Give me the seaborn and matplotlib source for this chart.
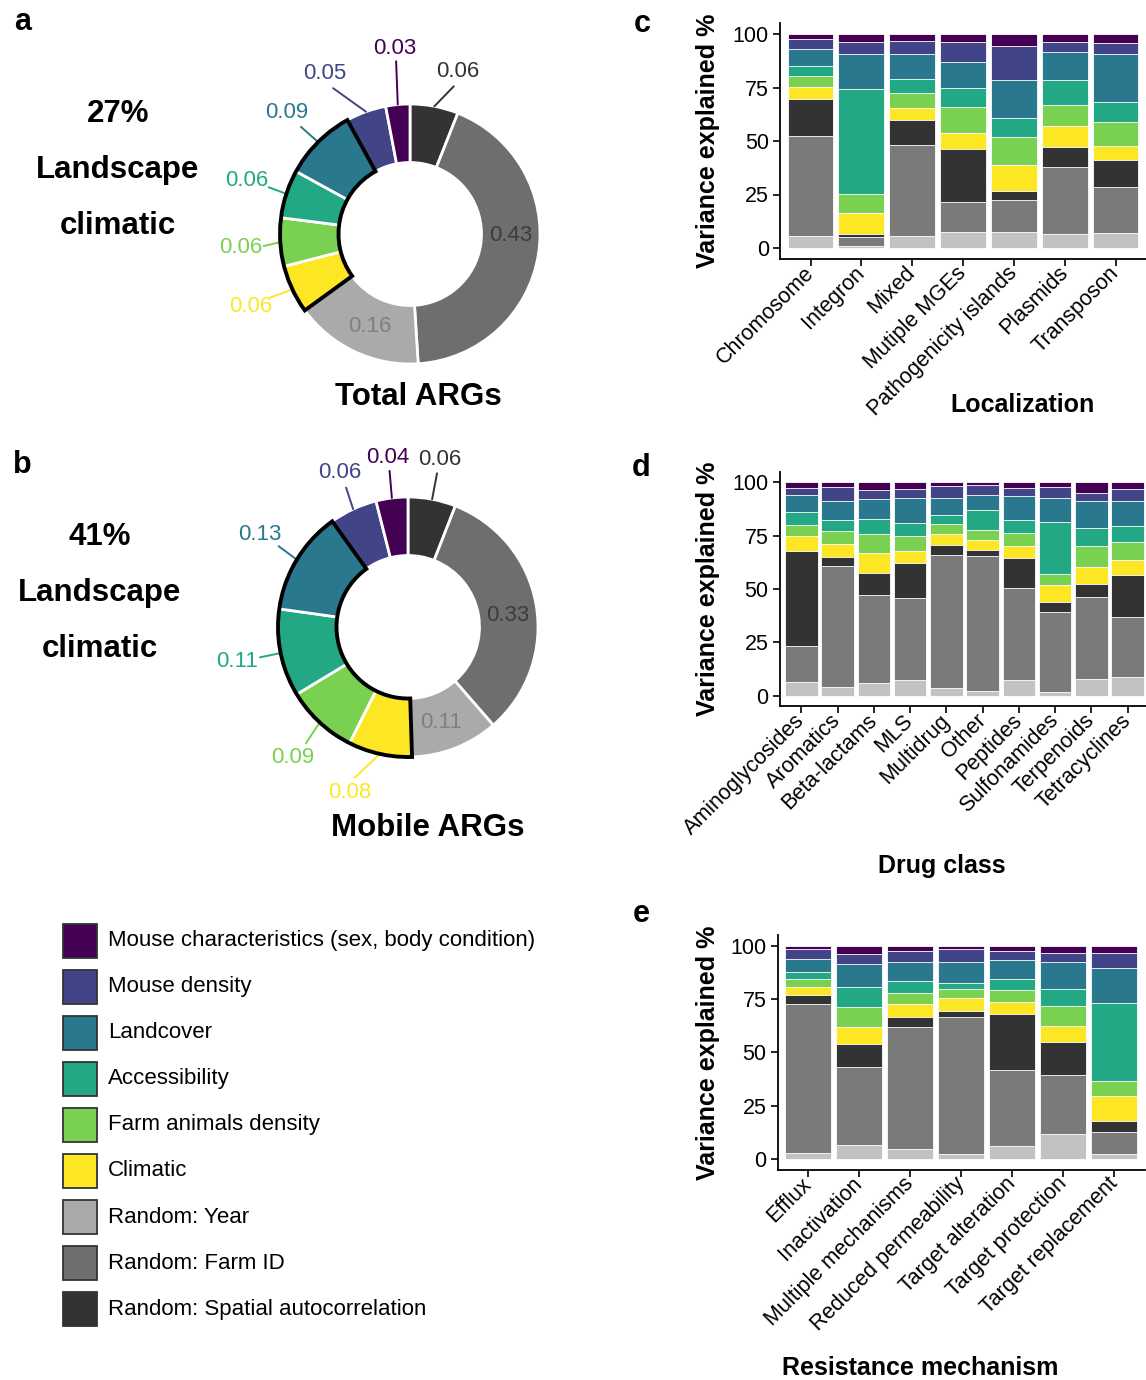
import numpy as np
import pandas as pd
import matplotlib
matplotlib.use("Agg")
import matplotlib.pyplot as plt
from matplotlib.patches import Wedge, Rectangle
import seaborn as sns

# stacking order, bottom -> top
components = ["Random: Year", "Random: Farm ID", "Random: Spatial autocorrelation",
              "Climatic", "Farm animals density", "Accessibility", "Landcover",
              "Mouse density", "Mouse characteristics (sex, body condition)"]
comp_colors = ["#AAAAAA", "#6E6E6E", "#333333", "#FDE725", "#7AD151",
               "#22A884", "#2A788E", "#414487", "#440154"]
bar_colors = ["#C2C2C2", "#7A7A7A", "#333333", "#FDE725", "#7AD151",
              "#22A884", "#2A788E", "#414487", "#440154"]
legend_order = [8, 7, 6, 5, 4, 3, 0, 1, 2]

# donuts (clockwise from top): spatial, farm ID, year, climatic, farm animals,
# accessibility, landcover, mouse density, mouse characteristics
donut_idx = [2, 1, 0, 3, 4, 5, 6, 7, 8]
total_vals = [0.06, 0.43, 0.16, 0.06, 0.06, 0.06, 0.09, 0.05, 0.03]
mobile_vals = [0.06, 0.33, 0.11, 0.08, 0.09, 0.11, 0.13, 0.06, 0.04]

# panel c
loc_cats = ["Chromosome", "Integron", "Mixed", "Mutiple MGEs",
            "Pathogenicity islands", "Plasmids", "Transposon"]
loc_year = [5.6, 0.8, 5.6, 7.6, 7.6, 6.7, 7.2]
loc_farm = [46.7, 4.2, 42.7, 13.7, 14.7, 31.0, 21.5]
loc_spatial = [17.3, 1.7, 11.5, 25.0, 4.5, 9.5, 12.4]
loc_climatic = [5.5, 9.8, 5.8, 7.6, 11.8, 10.0, 6.7]
loc_farmanim = [5.4, 8.9, 6.8, 11.8, 13.1, 9.5, 10.9]
loc_access = [4.5, 48.7, 6.4, 9.1, 8.9, 12.0, 9.4]
loc_land = [8.1, 16.7, 12.0, 12.1, 17.9, 12.7, 22.7]
loc_mdens = [4.4, 5.5, 6.1, 9.4, 16.0, 4.7, 4.8]
loc_mchar = [2.5, 3.7, 3.1, 3.7, 5.5, 3.9, 4.4]

# panel d
drug_cats = ["Aminoglycosides", "Aromatics", "Beta-lactams", "MLS", "Multidrug",
             "Other", "Peptides", "Sulfonamides", "Terpenoids", "Tetracyclines"]
drug_year = [6.4, 3.9, 5.8, 7.5, 3.8, 2.2, 7.5, 1.9, 7.8, 8.8]
drug_farm = [16.9, 56.7, 41.4, 38.3, 62.1, 63.3, 42.8, 37.3, 38.5, 28.2]
drug_spatial = [44.5, 4.6, 10.3, 16.5, 4.9, 2.6, 14.1, 4.7, 6.0, 19.4]
drug_climatic = [7.0, 6.1, 9.4, 5.5, 4.8, 4.7, 5.9, 7.8, 7.9, 7.2]
drug_farmanim = [5.2, 5.7, 8.9, 7.0, 4.7, 5.0, 6.1, 5.5, 10.1, 8.3]
drug_access = [6.1, 5.3, 6.9, 6.1, 4.2, 9.2, 6.1, 24.2, 8.5, 7.6]
drug_land = [8.0, 9.1, 9.5, 11.9, 8.3, 7.1, 11.1, 11.4, 12.5, 11.6]
drug_mdens = [3.2, 6.6, 4.2, 4.2, 5.5, 4.7, 3.7, 4.9, 3.9, 5.6]
drug_mchar = [2.7, 2.0, 3.6, 3.0, 1.7, 1.2, 2.7, 2.3, 4.8, 3.3]

# panel e
mech_cats = ["Efflux", "Inactivation", "Multiple mechanisms", "Reduced permeability",
             "Target alteration", "Target protection", "Target replacement"]
mech_year = [2.7, 6.6, 4.7, 2.2, 6.3, 11.6, 2.3]
mech_farm = [70.1, 36.7, 57.3, 64.5, 35.3, 27.6, 10.4]
mech_spatial = [4.1, 10.5, 4.6, 2.8, 26.2, 15.8, 5.1]
mech_climatic = [3.7, 8.2, 6.2, 5.8, 5.8, 7.5, 11.6]
mech_farmanim = [3.8, 9.3, 5.0, 4.2, 5.8, 9.4, 7.3]
mech_access = [3.3, 9.3, 5.5, 3.2, 4.8, 7.6, 36.6]
mech_land = [6.2, 11.0, 9.2, 9.5, 9.1, 13.0, 16.2]
mech_mdens = [4.5, 4.7, 5.2, 6.2, 4.0, 4.2, 7.2]
mech_mchar = [1.6, 3.7, 2.3, 1.6, 2.7, 3.3, 3.3]

sns.set_theme(style="ticks")
plt.rcParams["font.family"] = ["Liberation Sans", "DejaVu Sans"]
plt.rcParams.update({"text.color": "black", "axes.labelcolor": "black",
                     "xtick.color": "black", "ytick.color": "black"})

W, H = 1146, 1380
fig = plt.figure(figsize=(W / 100, H / 100), dpi=100)


def px(x, y):
    return x / W, 1 - y / H


def rect(left, top, right, bottom):
    return [left / W, 1 - bottom / H, (right - left) / W, (bottom - top) / H]


def stacked(box, cats, layers, xlabel, xlab_pos):
    ax = fig.add_axes(rect(*box))
    cum = np.cumsum(np.array(layers, dtype=float), axis=0)
    for i in range(len(layers) - 1, -1, -1):
        df = pd.DataFrame({"cat": cats, "val": cum[i]})
        sns.barplot(data=df, x="cat", y="val", order=cats, color=bar_colors[i],
                    saturation=1, width=0.9, edgecolor="white", linewidth=0.6, ax=ax)
    n = len(cats)
    ax.set_xlim(-0.6, n - 0.4)
    ax.set_ylim(-5, 105)
    ax.set_yticks([0, 25, 50, 75, 100])
    ax.set_xticks(range(n))
    ax.set_xticklabels(cats, rotation=45, ha="right", va="center",
                       rotation_mode="anchor", fontsize=15.5)
    ax.tick_params(axis="y", labelsize=15.5)
    ax.tick_params(length=5, width=1.2, color="black", pad=3)
    ax.set_xlabel("")
    ax.set_ylabel("")
    sns.despine(ax=ax)
    for s in ["left", "bottom"]:
        ax.spines[s].set_linewidth(1.3)
        ax.spines[s].set_color("black")
    cy = (box[1] + box[3]) / 2
    fig.text(*px(708, cy), "Variance explained %", rotation=90, ha="center",
             va="center", fontsize=18, fontweight="bold")
    fig.text(*px(*xlab_pos), xlabel, ha="center", va="center",
             fontsize=18, fontweight="bold")
    return ax


stacked((780, 23.3, 1146, 258.7), loc_cats,
        [loc_year, loc_farm, loc_spatial, loc_climatic, loc_farmanim,
         loc_access, loc_land, loc_mdens, loc_mchar],
        "Localization", (1023, 405))
stacked((779.6, 471.6, 1149.4, 706.4), drug_cats,
        [drug_year, drug_farm, drug_spatial, drug_climatic, drug_farmanim,
         drug_access, drug_land, drug_mdens, drug_mchar],
        "Drug class", (942, 866))
stacked((777.5, 935, 1145, 1169.7), mech_cats,
        [mech_year, mech_farm, mech_spatial, mech_climatic, mech_farmanim,
         mech_access, mech_land, mech_mdens, mech_mchar],
        "Resistance mechanism", (920, 1368))


def donut(center, vals, lab_r, lab_dt, inside_cols, title, title_pos, txt_x, txt_y):
    R = 130
    half = 200
    cx, cy = center
    ax = fig.add_axes(rect(cx - half, cy - half, cx + half, cy + half))
    cols = [comp_colors[k] for k in donut_idx]
    wedges, _ = ax.pie(vals, colors=cols, startangle=90, counterclock=False, radius=1,
                       wedgeprops=dict(width=0.45, edgecolor="white", linewidth=2))
    for i, (w, v) in enumerate(zip(wedges, vals)):
        mid = np.deg2rad((w.theta1 + w.theta2) / 2)
        ang = mid + np.deg2rad(lab_dt[i])
        lbl = f"{v:.2f}"
        if i in inside_cols:
            ax.text(0.775 * np.cos(ang), 0.775 * np.sin(ang), lbl, color=inside_cols[i],
                    ha="center", va="center", fontsize=16)
        else:
            r = lab_r[i]
            gap = 0.09 + 0.09 * abs(np.cos(ang))
            ax.plot([np.cos(mid), (r - gap) * np.cos(ang)],
                    [np.sin(mid), (r - gap) * np.sin(ang)], color=cols[i], lw=1.4)
            ax.text(r * np.cos(ang), r * np.sin(ang), lbl, color=cols[i],
                    ha="center", va="center", fontsize=16)
    # outline of the landscape/climatic group
    ax.add_patch(Wedge((0, 0), 1, wedges[6].theta1, wedges[3].theta2, width=0.45,
                       fill=False, edgecolor="black", lw=2.8, zorder=5))
    lim = half / R
    ax.set_xlim(-lim, lim)
    ax.set_ylim(-lim, lim)
    ax.set_axis_off()
    fig.text(*px(*title_pos), title, ha="center", va="center",
             fontsize=22.5, fontweight="bold")
    pct = round(sum(vals[3:7]) * 100)
    for s, y in zip([f"{pct}%", "Landscape", "climatic"], txt_y):
        fig.text(*px(txt_x, y), s, ha="center", va="center",
                 fontsize=22.5, fontweight="bold")


donut((410, 234), total_vals,
      [1.30, 0, 0, 1.35, 1.31, 1.32, 1.33, 1.40, 1.43],
      [-5.7, 8.4, 1.9, -0.7, 1.1, -0.3, 0.5, 8, -0.8],
      {1: "#3C3C3C", 2: "#808080"}, "Total ARGs", (418, 397), 118, [114, 170, 226])
donut((408, 627), mobile_vals,
      [1.31, 0, 0, 1.35, 1.34, 1.34, 1.34, 1.30, 1.31],
      [0, -3, -2.4, -7, 1.5, 0, -0.8, -1, -0.4],
      {1: "#3C3C3C", 2: "#808080"}, "Mobile ARGs", (428, 828), 100, [537, 593, 649])

# legend
for j, k in enumerate(legend_order):
    yc = 940.5 + j * 46.1
    x0, y0 = px(63, yc + 17)
    fig.patches.append(Rectangle((x0, y0), 34 / W, 34 / H, transform=fig.transFigure,
                                 facecolor=comp_colors[k], edgecolor="#333333", lw=1.3))
    fig.text(*px(108, yc), components[k], ha="left", va="center", fontsize=16)

# panel letters
for letter, pos in zip("abcde", [(23, 22), (22, 465), (642, 24), (641, 468), (641, 914)]):
    fig.text(*px(*pos), letter, ha="center", va="center", fontsize=22, fontweight="bold")

fig.savefig("out.png", dpi=100)
